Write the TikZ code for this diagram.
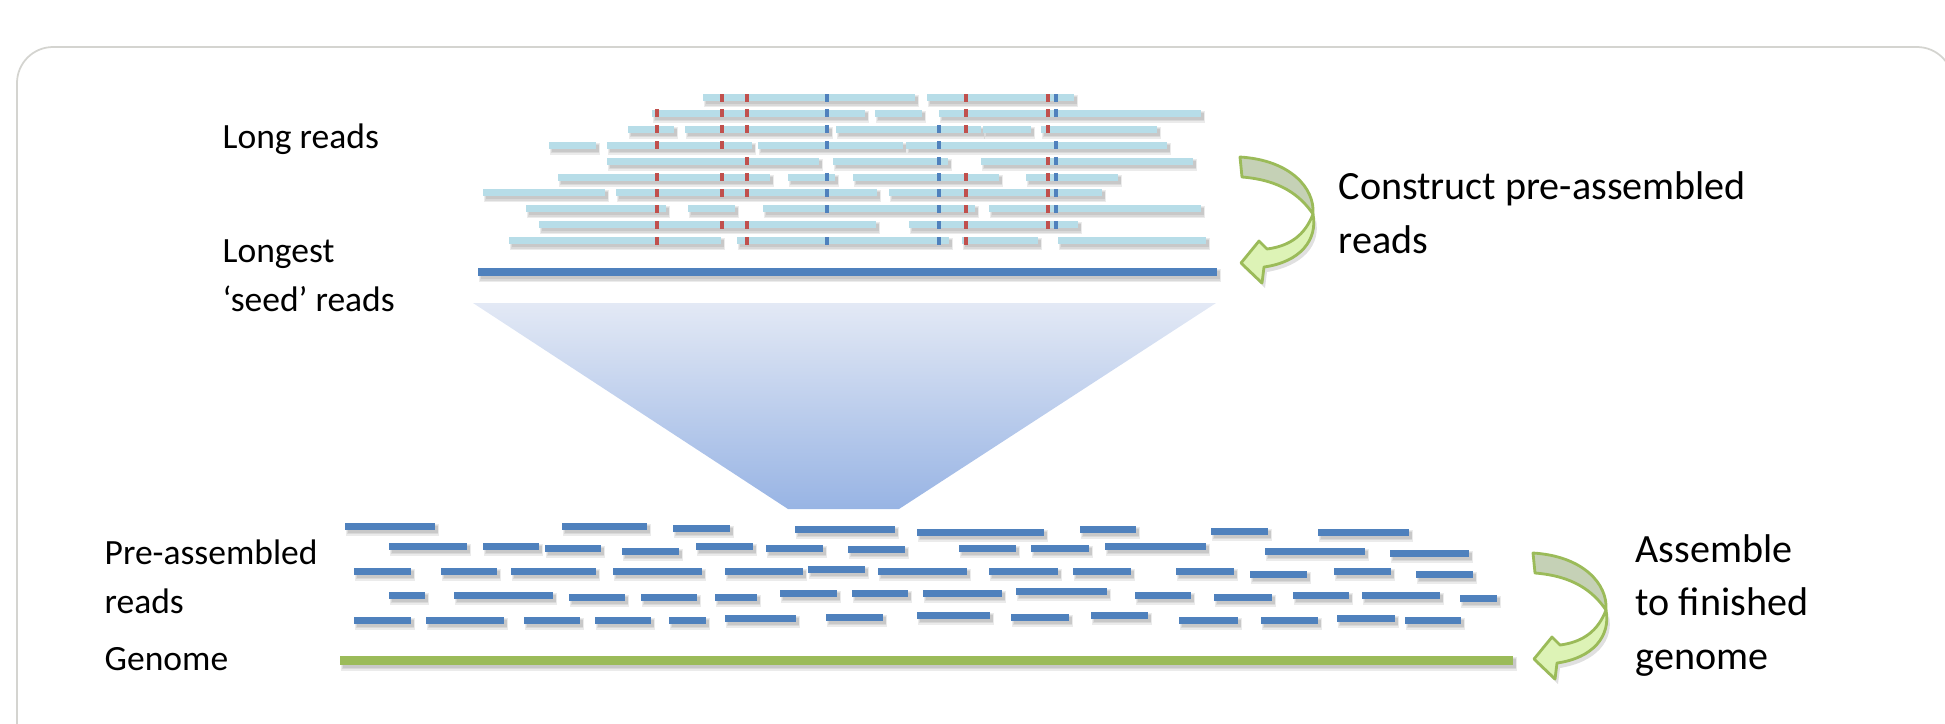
\documentclass[tikz,border=0pt]{standalone}
\usepackage{fontspec}
\setmainfont{Carlito}

\definecolor{readblue}{HTML}{B7DDE8}
\definecolor{seedblue}{HTML}{4F81BD}
\definecolor{snpred}{HTML}{C0504D}
\definecolor{genomegreen}{HTML}{9BBB59}
\definecolor{framegray}{HTML}{D4D4D0}
\definecolor{funneltop}{HTML}{E3E9F5}
\definecolor{funnelbot}{HTML}{98B4E4}
\definecolor{arrowback}{HTML}{C5D1B6}
\definecolor{arrowfront}{HTML}{DDF3B6}

\tikzset{
  lbl/.style={font=\fontsize{10.1}{13.7}\selectfont, inner sep=0pt, anchor=base west, align=left},
  note/.style={font=\fontsize{11.4}{15.1}\selectfont, inner sep=0pt, anchor=base west, align=left},
  shadowfill/.style={fill=black, opacity=0.08},
  arrowline/.style={draw=genomegreen, line width=0.8pt, line join=round},
}

% bar with a soft shadow: colour, x1, x2, y, half height
\newcommand\readbar[5]{%
  \fill[shadowfill] ({#2+1},{#4-#5+1}) rectangle ({#3+4},{#4+#5+6});
  \fill[shadowfill] ({#2+2},{#4-#5+2}) rectangle ({#3+3},{#4+#5+4.5});
  \fill[shadowfill] ({#2+2.5},{#4-#5+3}) rectangle ({#3+2.5},{#4+#5+3});
  \fill[#1] (#2,{#4-#5}) rectangle (#3,{#4+#5});
}
% coloured mark on a read: colour, x, y
\newcommand\snp[3]{\fill[#1] ({#2-1.7},{#3-4}) rectangle ({#2+1.7},{#3+4});}

% twisted turn-back arrow
\newcommand\turnarrow[1]{%
  \begin{scope}[shift={#1}]
    \fill[black, opacity=.12] (1316,220) .. controls (1308,240) and (1293,251) .. (1270,254)
      -- (1262,246) -- (1244,268) -- (1265,288) -- (1267,272)
      .. controls (1303,266) and (1321,245) .. (1316,220) -- cycle;
    \filldraw[arrowline, fill=arrowback] (1240,157) .. controls (1290,160) and (1315,188) .. (1313,214)
      .. controls (1300,195) and (1280,180) .. (1242,177) -- cycle;
    \filldraw[arrowline, fill=arrowfront] (1313,214) .. controls (1305,235) and (1290,246) .. (1267,249)
      -- (1259,241) -- (1241,263) -- (1262,283) -- (1264,267)
      .. controls (1300,262) and (1318,240) .. (1313,214) -- cycle;
  \end{scope}}

\begin{document}
\begin{tikzpicture}[x=0.01cm, y=-0.01cm]
\useasboundingbox (0,0) rectangle (1945,723);
\draw[framegray, line width=0.5pt, rounded corners=0.36cm] (17,780) -- (17,47) -- (1953,47) -- (1953,780);

% long reads
\foreach \a/\b in {703/915, 927/1074} \readbar{readblue}{\a}{\b}{97.5}{3.5};
\foreach \a/\b in {652/865, 875/922, 939/1201} \readbar{readblue}{\a}{\b}{113.4}{3.5};
\foreach \a/\b in {628/674, 685/829, 836/981, 983/1031, 1041/1157} \readbar{readblue}{\a}{\b}{129.3}{3.5};
\foreach \a/\b in {549/596, 607/752, 758/903, 906/1167} \readbar{readblue}{\a}{\b}{145.2}{3.5};
\foreach \a/\b in {607/819, 833/948, 981/1193} \readbar{readblue}{\a}{\b}{161.1}{3.5};
\foreach \a/\b in {558/770, 788/835, 853/999, 1026/1118} \readbar{readblue}{\a}{\b}{177}{3.5};
\foreach \a/\b in {483/605, 616/877, 889/1102} \readbar{readblue}{\a}{\b}{192.9}{3.5};
\foreach \a/\b in {526/666, 688/735, 763/975, 989/1201} \readbar{readblue}{\a}{\b}{208.8}{3.5};
\foreach \a/\b in {539/876, 909/1078} \readbar{readblue}{\a}{\b}{224.7}{3.5};
\foreach \a/\b in {509/721, 737/949, 962/1038, 1058/1206} \readbar{readblue}{\a}{\b}{240.6}{3.5};

% marks shared between reads
\foreach \x in {722,747,966,1048} \snp{snpred}{\x}{97.5};
\foreach \x in {827,1056} \snp{seedblue}{\x}{97.5};
\foreach \x in {657,722,747,966,1048} \snp{snpred}{\x}{113.4};
\foreach \x in {827,1056} \snp{seedblue}{\x}{113.4};
\foreach \x in {657,722,747,966,1048} \snp{snpred}{\x}{129.3};
\foreach \x in {827,939} \snp{seedblue}{\x}{129.3};
\foreach \x in {657,722} \snp{snpred}{\x}{145.2};
\foreach \x in {827,939,1056} \snp{seedblue}{\x}{145.2};
\foreach \x in {747,1048} \snp{snpred}{\x}{161.1};
\foreach \x in {939,1056} \snp{seedblue}{\x}{161.1};
\foreach \x in {657,722,747,966,1048} \snp{snpred}{\x}{177};
\foreach \x in {827,939,1056} \snp{seedblue}{\x}{177};
\foreach \x in {657,722,747,966,1048} \snp{snpred}{\x}{192.9};
\foreach \x in {827,939,1056} \snp{seedblue}{\x}{192.9};
\foreach \x in {657,966,1048} \snp{snpred}{\x}{208.8};
\foreach \x in {827,939,1056} \snp{seedblue}{\x}{208.8};
\foreach \x in {657,722,747,966,1048} \snp{snpred}{\x}{224.7};
\foreach \x in {939,1056} \snp{seedblue}{\x}{224.7};
\foreach \x in {657,747,966} \snp{snpred}{\x}{240.6};
\foreach \x in {827,939} \snp{seedblue}{\x}{240.6};

% seed read and funnel
\readbar{seedblue}{478}{1217}{272}{4}
\shade[top color=funneltop, bottom color=funnelbot] (473,303) -- (1216,303) -- (899,509) -- (788,509) -- cycle;

% pre-assembled reads
\foreach \a/\b/\y in {345/435/526, 562/647/526, 673/730/528, 795/895/529, 917/1044/532, 1080/1136/529, 1211/1268/531, 1318/1409/532}
  \readbar{seedblue}{\a}{\b}{\y}{3.5};
\foreach \a/\b/\y in {389/467/546, 483/539/546, 545/601/548, 622/679/551, 696/753/546, 766/823/548, 848/905/549, 959/1016/548, 1031/1089/548, 1105/1206/546, 1265/1365/551, 1390/1469/553}
  \readbar{seedblue}{\a}{\b}{\y}{3.5};
\foreach \a/\b/\y in {354/411/571, 441/497/571, 511/596/571, 613/702/571, 725/803/571, 808/865/569, 878/967/571, 989/1058/571, 1073/1131/571, 1176/1234/571, 1250/1307/574, 1334/1391/571, 1416/1473/574}
  \readbar{seedblue}{\a}{\b}{\y}{3.5};
\foreach \a/\b/\y in {389/425/595, 454/553/595, 569/625/597, 641/697/597, 715/757/597, 780/837/593, 852/908/593, 923/1002/593, 1016/1107/591, 1135/1191/595, 1214/1272/597, 1293/1349/595, 1362/1440/595, 1460/1497/598}
  \readbar{seedblue}{\a}{\b}{\y}{3.5};
\foreach \a/\b/\y in {354/411/620, 426/504/620, 524/580/620, 595/651/620, 669/706/620, 725/796/618, 826/883/617, 917/990/615, 1011/1069/617, 1091/1148/615, 1179/1238/620, 1261/1318/620, 1337/1395/618, 1405/1461/620}
  \readbar{seedblue}{\a}{\b}{\y}{3.5};

% genome
\readbar{genomegreen}{340}{1513}{660}{4.5}

\turnarrow{(0,0)}
\turnarrow{(293,396)}

% multi-line labels sit on the baseline of their last line
\node[lbl] (longreads) at (222,148) {Long reads};
\node[lbl] (seedlbl) at (222,311) {Longest\\`seed' reads};
\node[lbl] (prelbl) at (104,613) {Pre-assembled\\reads};
\node[lbl] (genomelbl) at (104,670) {Genome};
\node[note] (constructlbl) at (1338,253) {Construct pre-assembled\\reads};
\node[note] (assemblelbl) at (1635,669) {Assemble\\to finished\\genome};
\end{tikzpicture}
\end{document}
